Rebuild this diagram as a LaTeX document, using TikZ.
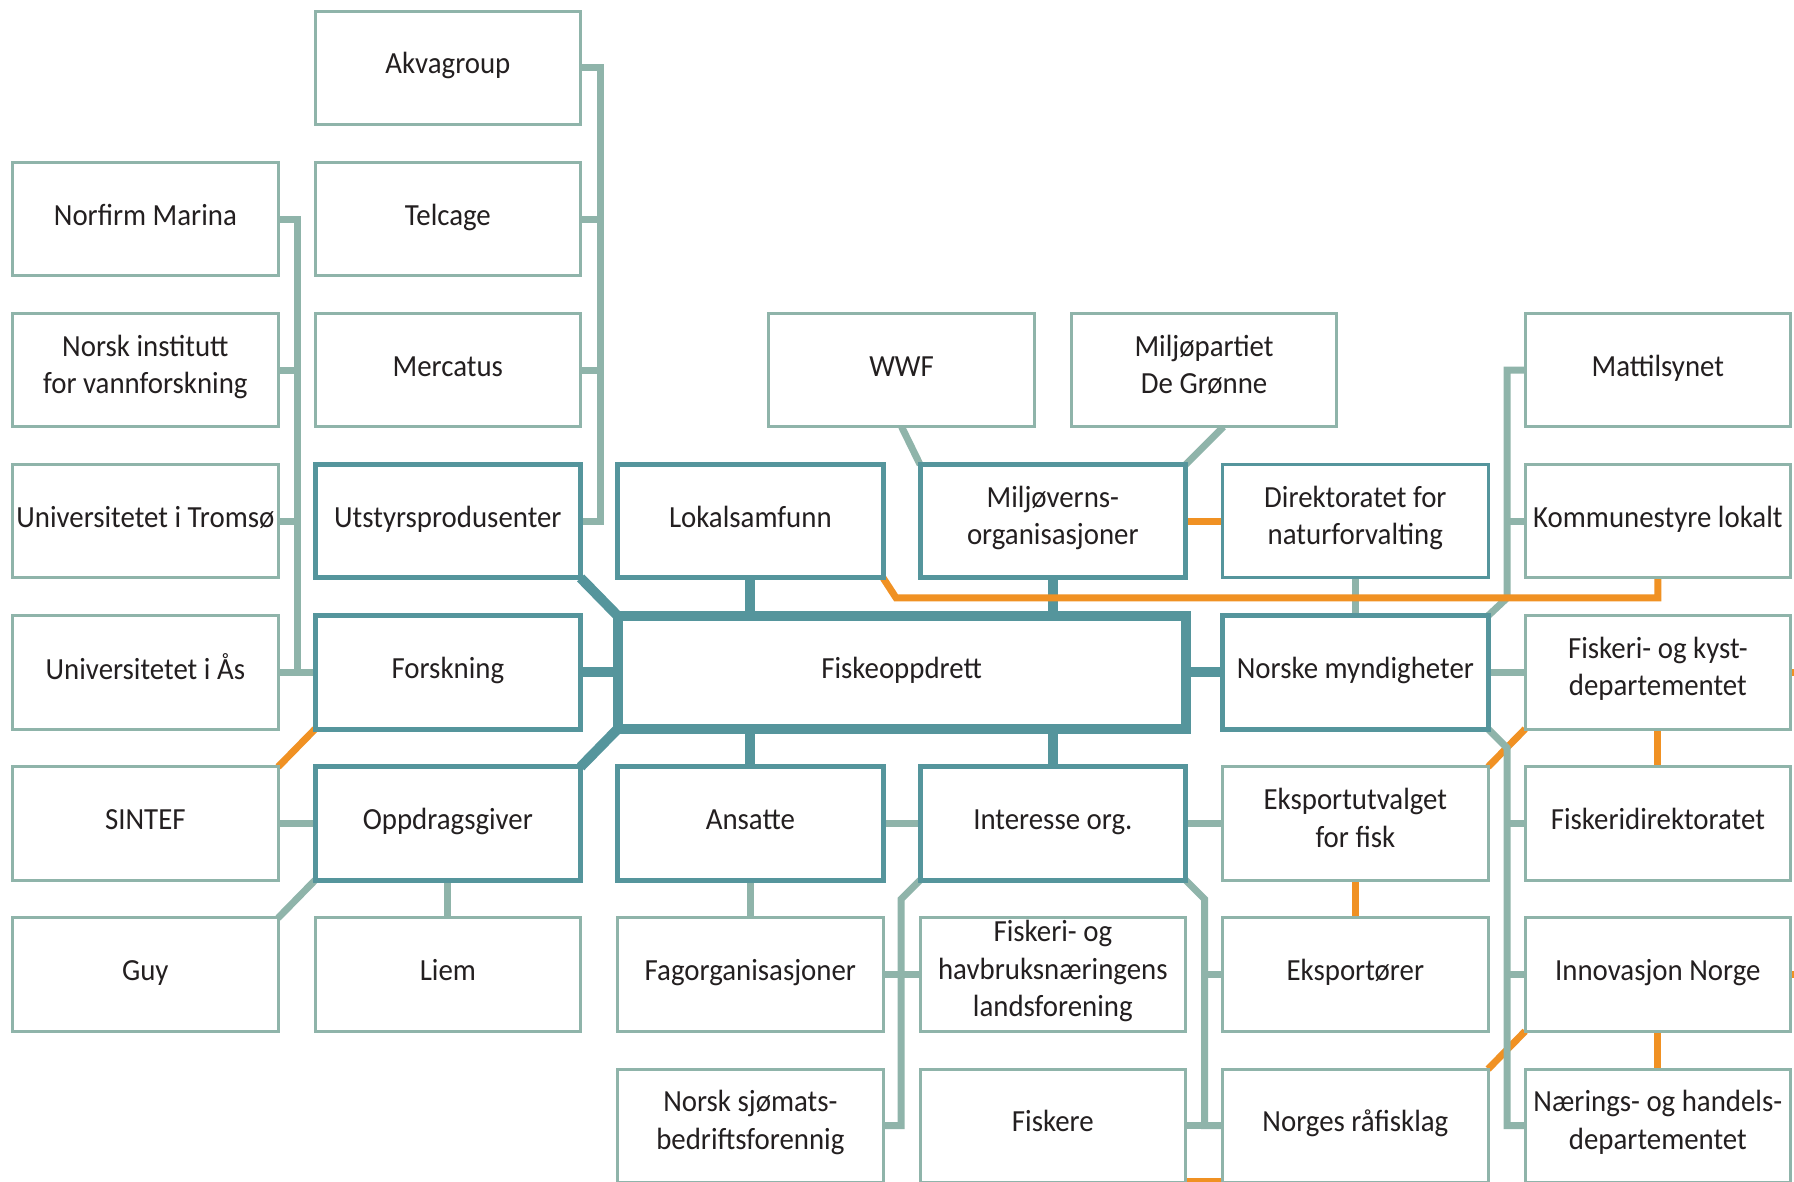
\documentclass[tikz,border=0pt]{standalone}
\usepackage{fontspec}
\setmainfont[FakeStretch=0.94]{Carlito}
\usetikzlibrary{backgrounds,calc}
\definecolor{dteal}{HTML}{55959C}
\definecolor{sage}{HTML}{8FB4AA}
\definecolor{orng}{HTML}{F09123}
\definecolor{txt}{HTML}{231F20}
\newcommand\boxstrut{\rule[-12pt]{0pt}{36pt}}
\begin{document}
\begin{tikzpicture}[x=1pt,y=-1pt,
  box/.style={draw=sage, line width=3pt, fill=white, minimum width=265.5pt, minimum height=113.3pt,
    inner sep=0pt, outer sep=0pt, align=center, font=\fontsize{30.7}{37.7}\selectfont, text=txt,
    execute at begin node=\boxstrut, execute at end node=\boxstrut},
  dbox/.style={box, draw=dteal, line width=5pt},
  tbox/.style={box, draw=dteal, line width=3pt},
  cbox/.style={box, draw=dteal, line width=10pt, minimum width=568pt},
  lc/.style={draw=sage, line width=7pt},
  dc/.style={draw=dteal, line width=10pt},
  oc/.style={draw=orng, line width=7pt},
]
\useasboundingbox (0,0) rectangle (1794,1182);
\clip (0,0) rectangle (1794,1182);

% column A
\node[box] (norf) at (145.35,219.1) {Norfirm Marina};
\node[box] (nivf) at (145.35,370.2) {Norsk institutt\\for vannforskning};
\node[box] (uit)  at (145.35,521.3) {Universitetet i Tromsø};
\node[box] (uas)  at (145.35,672.4) {Universitetet i Ås};
\node[box] (sint) at (145.35,823.5) {SINTEF};
\node[box] (guy)  at (145.35,974.6) {Guy};
% column B
\node[box] (akva) at (447.85,68) {Akvagroup};
\node[box] (telc) at (447.85,219.1) {Telcage};
\node[box] (merc) at (447.85,370.2) {Mercatus};
\node[dbox] (utst) at (447.85,521.3) {Utstyrsprodusenter};
\node[dbox] (fors) at (447.85,672.4) {Forskning};
\node[dbox] (oppd) at (447.85,823.5) {Oppdragsgiver};
\node[box] (liem) at (447.85,974.6) {Liem};
% column C
\node[dbox] (loka) at (750.35,521.3) {Lokalsamfunn};
\node[dbox] (ansa) at (750.35,823.5) {Ansatte};
\node[box] (fago) at (750.35,974.6) {Fagorganisasjoner};
\node[box] (nsbf) at (750.35,1125.7) {Norsk sjømats-\\bedriftsforennig};
% column D
\node[dbox] (milo) at (1052.85,521.3) {Miljøverns-\\organisasjoner};
\node[dbox] (inte) at (1052.85,823.5) {Interesse org.};
\node[box] (fhl)  at (1052.85,974.6) {Fiskeri- og\\havbruksnæringens\\landsforening};
\node[box] (fisk) at (1052.85,1125.7) {Fiskere};
% half columns
\node[box] (wwf) at (901.6,370.2) {WWF};
\node[box] (mdg) at (1204.1,370.2) {Miljøpartiet\\De Grønne};
% central
\node[cbox] (fo) at (901.6,672.4) {Fiskeoppdrett};
% column E
\node[tbox] (dirn) at (1355.35,521.3) {Direktoratet for\\naturforvalting};
\node[dbox] (nmyn) at (1355.35,672.4) {Norske myndigheter};
\node[box] (eksu) at (1355.35,823.5) {Eksportutvalget\\for fisk};
\node[box] (ekso) at (1355.35,974.6) {Eksportører};
\node[box] (rafi) at (1355.35,1125.7) {Norges råfisklag};
% column F
\node[box] (matt) at (1657.85,370.2) {Mattilsynet};
\node[box] (komm) at (1657.85,521.3) {Kommunestyre lokalt};
\node[box] (fkd)  at (1657.85,672.4) {Fiskeri- og kyst-\\departementet};
\node[box] (fdir) at (1657.85,823.5) {Fiskeridirektoratet};
\node[box] (innn) at (1657.85,974.6) {Innovasjon Norge};
\node[box] (nhd)  at (1657.85,1125.7) {Nærings- og handels-\\departementet};

\coordinate (busA) at (297,0);
\coordinate (busB) at (600,0);
\coordinate (busF) at (1507,0);
\coordinate (busR) at (1205,0);
\coordinate (oy) at (0,598);
\coordinate (boty) at (0,1181);

\begin{scope}[on background layer]
  \fill[white] (0,0) rectangle (1794,1182);
  % orange diagonals under the sage bus
  \draw[oc] (eksu.north east) -- (fkd.south west);
  \draw[oc] (rafi.north east) -- (innn.south west);
  % sage connectors
  \draw[lc] (norf.east) -| (busA |- fors.west) -- (fors.west);
  \draw[lc] (nivf.east) -- (nivf.east -| busA);
  \draw[lc] (uit.east) -- (uit.east -| busA);
  \draw[lc] (uas.east) -- (fors.west);
  \draw[lc] (akva.east) -| (busB |- utst.east) -- (utst.east);
  \draw[lc] (telc.east) -- (telc.east -| busB);
  \draw[lc] (merc.east) -- (merc.east -| busB);
  \draw[lc] (matt.west) -| (busF |- oy) -- (nmyn.north east);
  \draw[lc] (komm.west) -- (komm.west -| busF);
  \draw[lc] (nmyn.south east) -- ++(19,19) |- (nhd.west);
  \draw[lc] (fdir.west) -- (fdir.west -| busF);
  \draw[lc] (innn.west) -- (innn.west -| busF);
  \draw[lc] (nmyn.east) -- (fkd.west);
  \draw[lc] (dirn.south) -- (nmyn.north);
  \draw[lc] (wwf.south) -- (milo.north west);
  \draw[lc] ($(mdg.south)+(19.3,0)$) -- (milo.north east);
  \draw[lc] (sint.east) -- (oppd.west);
  \draw[lc] (oppd.south west) -- (guy.north east);
  \draw[lc] (oppd.south) -- (liem.north);
  \draw[lc] (ansa.south) -- (fago.north);
  \draw[lc] (ansa.east) -- (inte.west);
  \draw[lc] (inte.east) -- (eksu.west);
  \draw[lc] (inte.south west) -- ++(-19,19) |- (nsbf.east);
  \draw[lc] (fago.east) -- (fhl.west);
  \draw[lc] (inte.south east) -- ++(19,19) |- (rafi.west);
  \draw[lc] (fisk.east) -- (rafi.west);
  \draw[lc] (ekso.west) -- (ekso.west -| busR);
  % dark connectors
  \draw[dc] (utst.south east) -- (fo.north west);
  \draw[dc] (oppd.north east) -- (fo.south west);
  \draw[dc] (fors.east) -- (fo.west);
  \draw[dc] (fo.east) -- (nmyn.west);
  \draw[dc] (loka.south) -- (loka.south |- fo.north);
  \draw[dc] (milo.south) -- (milo.south |- fo.north);
  \draw[dc] (ansa.north) -- (ansa.north |- fo.south);
  \draw[dc] (inte.north) -- (inte.north |- fo.south);
  % orange connectors
  \draw[oc] (loka.south east) -- ++(13,20) -| (komm.south);
  \draw[oc] (fors.south west) -- (sint.north east);
  \draw[oc] (milo.east) -- (dirn.west);
  \draw[oc] (eksu.south) -- (ekso.north);
  \draw[oc] (fkd.south) -- (fdir.north);
  \draw[oc] (innn.south) -- (nhd.north);
  \draw[oc] (fkd.east) -- ++(12,0);
  \draw[oc] (innn.east) -- ++(12,0);
  \draw[oc] (fisk.east |- boty) -- (rafi.west |- boty);
\end{scope}
\end{tikzpicture}
\end{document}
